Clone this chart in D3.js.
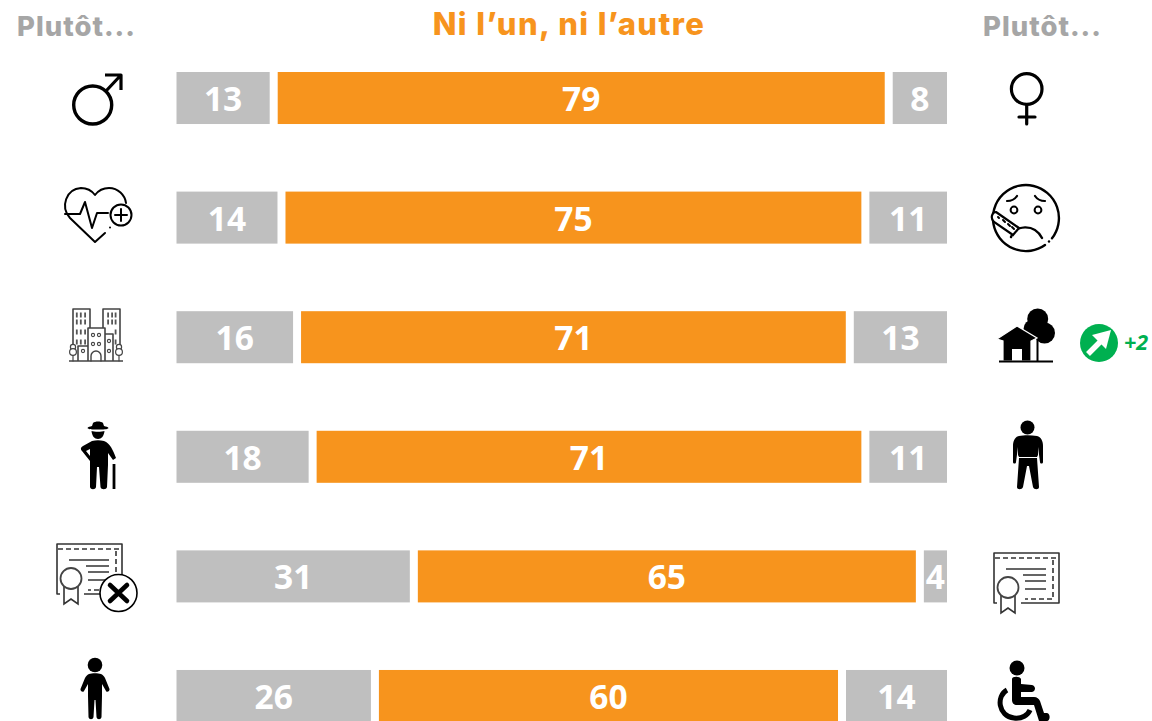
<html>

<head>
    <meta charset="utf-8">
    <script src="https://d3js.org/d3.v7.min.js"></script>
    <style>
        html, body { margin: 0; padding: 0; background: #fff; overflow: hidden; }
        svg { display: block; }
        .val { font: 700 33.5px "Open Sans", sans-serif; fill: #fff; text-anchor: middle; }
        .head { font-family: Inter, sans-serif; font-weight: 800; text-anchor: middle; }
    </style>
</head>

<body>
    <script>
        //values, top row first
        var rows = ["genre", "sante", "lieu", "age", "diplome", "handicap"];
        var plutotGauche = [13, 14, 16, 18, 31, 26];
        var niLunNiLautre = [79, 75, 71, 71, 65, 60];
        var plutotDroite = [8, 11, 13, 11, 4, 14];

        var titleLabel = "Ni l’un, ni l’autre";
        var sideLabel = "Plutôt...";
        var changeLabel = "+2";

        var ORANGE = "#f7941d", GREY = "#bfbfbf", GREEN = "#00b050";
        var gap = 8;

        var svg = d3.select("body").append("svg")
            .attr("width", 1152)
            .attr("height", 721);

        var x = d3.scaleLinear().domain([0, 100]).range([168.5, 947]);
        var y = d3.scaleBand().domain(rows).range([72, 722]).paddingInner(0.565).paddingOuter(0).align(0);

        //headers
        svg.append("text").attr("class", "head").attr("x", 569).attr("y", 35)
            .attr("font-size", 31).attr("letter-spacing", 1.4).attr("fill", ORANGE).text(titleLabel);
        svg.selectAll(".side").data([76.5, 1042.5]).enter().append("text")
            .attr("class", "head side").attr("x", function (d) { return d; }).attr("y", 36)
            .attr("font-size", 27.5).attr("letter-spacing", 1).attr("fill", "#a6a6a6").text(sideLabel);

        //one group per row
        var row = svg.selectAll(".row").data(rows).enter().append("g")
            .attr("class", "row")
            .attr("transform", function (d) { return "translate(0," + y(d) + ")"; });

        var h = y.bandwidth();

        //each segment starts a gap after the previous one ends
        function segment(g, from, to, col) {
            var left = x(from) + gap, right = x(to);
            g.append("rect").attr("x", left).attr("width", right - left).attr("height", h).attr("fill", col);
            g.append("text").attr("class", "val")
                .attr("x", (left + right) / 2).attr("y", h / 2 + 13).text(to - from);
        }

        row.each(function (d, i) {
            var g = d3.select(this);
            var a = plutotGauche[i], b = niLunNiLautre[i], c = plutotDroite[i];
            segment(g, 0, a, GREY);
            segment(g, a, a + b, ORANGE);
            segment(g, a + b, a + b + c, GREY);
        });

        //icons
        var icons = svg.append("g");

        function line(g, p, w, col) {
            return g.append("path").attr("d", p).attr("fill", "none")
                .attr("stroke", col || "#000").attr("stroke-width", w)
                .attr("stroke-linecap", "round").attr("stroke-linejoin", "round");
        }
        function fill(g, p) {
            return g.append("path").attr("d", p).attr("fill", "#000");
        }
        function ring(g, cx, cy, r, w, bg) {
            return g.append("circle").attr("cx", cx).attr("cy", cy).attr("r", r)
                .attr("fill", bg || "none").attr("stroke", "#000").attr("stroke-width", w);
        }
        function dot(g, cx, cy, r, col) {
            return g.append("circle").attr("cx", cx).attr("cy", cy).attr("r", r).attr("fill", col || "#000");
        }

        //male
        ring(icons, 92.7, 105, 19, 3.4);
        line(icons, "M106 91L121 75M105 75H121V90", 3.2).attr("stroke-linecap", "butt");

        //female
        ring(icons, 1026.7, 89, 15.3, 3.2);
        line(icons, "M1026.7 105V124M1019 117H1035", 3.2);

        //heart with plus
        line(icons, "M105 233L95 242L70 218C60 207 66 189 81 188C87 188 92 191 95 195C98 191 103 188 109 188C118 188 125 195 126 203", 2);
        line(icons, "M65 214H80L85 202L92 228L97 213H108", 2);
        ring(icons, 121, 215, 10.5, 2, "#fff");
        line(icons, "M115 215H127M121 209V221", 2);
        dot(icons, 110, 227.5, 1);

        //sick face
        line(icons, "M1052 238.3A33 33 0 1 0 1045 245", 2.4);
        dot(icons, 1049, 241.5, 1.2);
        ring(icons, 1014, 210, 3.4, 2);
        ring(icons, 1038, 210, 3.4, 2);
        line(icons, "M1007 201C1011 201 1015 199 1017 196M1045 201C1041 201 1037 199 1035 196", 2.2);
        line(icons, "M1011 237C1015 225 1034 223 1042 238", 2.4);
        icons.append("path")
            .attr("d", "M996 212L1019 228L1013 235L994 222C990 218 992 212 996 212Z")
            .attr("fill", "#fff").attr("stroke", "#000").attr("stroke-width", 2.2);
        line(icons, "M998 217L999 218M1003 220L1005 222M1008 224L1010 226M1012 227L1014 229", 2);

        //city
        var city = icons.append("g");
        line(city, "M73 345V309H90V328M103 328V309H120V345M88 361V328H105V361M78 361V346H88M105 334H113V361M69 361H123", 1.6, "#444")
            .attr("stroke-linecap", "butt");
        line(city, "M91 361V356A5 5 0 0 1 101 356V361", 1.4, "#444");
        [76.7, 80.7, 85, 108, 112, 115.5].forEach(function (wx) {
            [315, 322, 332, 342].forEach(function (wy) {
                if (!(wx > 100 && wx < 113 && wy > 330))
                    city.append("rect").attr("x", wx - 0.8).attr("y", wy - 2.5).attr("width", 1.8).attr("height", 5).attr("fill", "#555");
            });
        });
        [[93, 335], [99, 335], [93, 344], [99, 344], [109, 341], [109, 351], [83, 351]].forEach(function (w) {
            ring(city, w[0], w[1], 1.6, 1.1).attr("stroke", "#444");
        });
        [73, 119].forEach(function (tx) {
            ring(city, tx, 347, 2.6, 1.2, "#fff").attr("stroke", "#444");
            ring(city, tx, 352, 3.4, 1.2, "#fff").attr("stroke", "#444");
            line(city, "M" + tx + " 355.5V361", 1.2, "#444");
        });

        //house with trees
        dot(icons, 1037.7, 319, 10.5);
        dot(icons, 1033, 329, 9.5);
        dot(icons, 1044.5, 333, 10.5);
        line(icons, "M1037.5 340V361", 2);
        icons.append("path")
            .attr("d", "M997 339L1017 326L1037 338L1031 341V361H1003V341Z")
            .attr("fill", "#000").attr("stroke", "#fff").attr("stroke-width", 1.2);
        icons.append("rect").attr("x", 1012).attr("y", 349).attr("width", 10).attr("height", 12).attr("fill", "#fff");
        line(icons, "M999 361.5H1053", 1.8).attr("stroke-linecap", "butt");

        //green badge
        dot(icons, 1099, 343, 19, GREEN);
        line(icons, "M1088 354L1100 342", 5.5, "#fff").attr("stroke-linecap", "butt");
        icons.append("path").attr("d", "M1111 330L1106 349L1092 335Z").attr("fill", "#fff");
        icons.append("text").attr("x", 1124).attr("y", 350)
            .attr("font-family", "'Open Sans', sans-serif").attr("font-weight", 700).attr("font-style", "italic")
            .attr("font-size", 21.5).attr("fill", GREEN).text(changeLabel);

        //old man with hat and cane
        fill(icons, "M92 426L93 423C95 421 101 421 103 423L104 426C106 426.5 108 427 108.5 428C108 429.5 103 429.5 98 429.5C93 429.5 88 429.5 87.5 428C88 427 90 426.5 92 426Z");
        fill(icons, "M91.5 431C94 432 102 432 104.5 431C104 436 101.5 439 98 439C94.5 439 92 436 91.5 431Z");
        fill(icons, "M92 441C96 440 100 440 104 441C110 443 113 450 116 458L113 460L108 453V465L107 487C106.5 490 101 490 100.5 487L99 467H97L96 487C95.5 490 90.5 490 90 487L90 465V461L82 451C80 449 81 447 83 446ZM90 449L86 451L90 456Z");
        line(icons, "M114 464V489", 2.8).attr("stroke-linecap", "butt");

        //standing man, row 4
        dot(icons, 1027.5, 427.5, 7);
        fill(icons, "M1019 436C1024 435 1031 435 1037 436C1041 437 1043 441 1043 446L1043 462C1043 464 1040 464 1040 462L1038 447V455L1037 457H1019L1018 455V447L1016 462C1016 464 1013 464 1013 462L1013 446C1013 441 1015 437 1019 436ZM1019 458H1037L1039 487C1039 490 1034 490 1033 487L1029 466H1027L1023 487C1022 490 1017 490 1017 487Z");

        //diplomas, the left one is the same shifted, with a cross on top
        function diploma(dx, dy) {
            var d = icons.append("g").attr("transform", "translate(" + dx + "," + dy + ")");
            line(d, "M60 594H57V544H122V594H84", 1.6, "#333").attr("stroke-linecap", "butt");
            line(d, "M58 549H121", 1.6, "#333").attr("stroke-dasharray", "5 3").attr("stroke-linecap", "butt");
            line(d, "M116 551V590H88", 1.6, "#333").attr("stroke-dasharray", "5 3").attr("stroke-linecap", "butt");
            line(d, "M69 560H109M86 566H109M88 572H109M88 580H109", 1.6, "#333").attr("stroke-linecap", "butt");
            line(d, "M64 586V604L71 599L78 604V586", 1.6, "#333").attr("stroke-linejoin", "miter");
            ring(d, 71, 578.5, 10.5, 1.8, "#fff").attr("stroke", "#444");
            return d;
        }
        diploma(0, 0);
        diploma(937, 9);
        ring(icons, 118.5, 593, 18.5, 1.6, "#fff");
        line(icons, "M110 585L127 601M127 585L110 601", 4.6);

        //standing man, row 6
        dot(icons, 95, 665, 7.3);
        fill(icons, "M89 674C92 673 98 673 101 674C103 675 104 676 105 678L109.5 689C110 691 107 693 106 691L102 684V696L101.5 717C101 720 97 720 96.5 717L95.5 700H94.5L93.5 717C93 720 89 720 88.5 717L88 696V684L84 691C83 693 80 691 80.5 689L85 678C86 676 87 675 89 674Z");

        //wheelchair
        dot(icons, 1017, 668, 7.5);
        fill(icons, "M1012 679C1012 676 1020 676 1021 679V684L1032 685C1036 686 1036 691 1032 692L1021 692V697L1034 697C1037 697 1039 699 1040 701L1044 713L1047 713C1051 714 1050 721 1047 721L1039 721L1034 705L1017 705C1014 705 1012 703 1012 700Z");
        line(icons, "M1007 690C996 696 998 716 1014 718C1022 719 1028 715 1030 710", 5).attr("stroke-linecap", "butt");
    </script>
</body>

</html>
